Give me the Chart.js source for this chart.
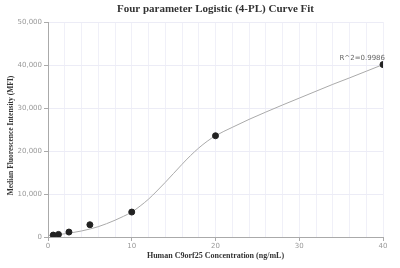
<!DOCTYPE html>
<html>
<head>
<meta charset="utf-8">
<script src="https://cdn.jsdelivr.net/npm/chart.js@4"></script>
<style>
html,body{margin:0;padding:0;background:#fff;}
#wrap{width:400px;height:268px;position:relative;}
</style>
</head>
<body>
<div id="wrap"><canvas id="c" width="400" height="268"></canvas></div>
<script>
const pointX = [0.625, 1.25, 2.5, 5, 10, 20, 40];
const pointY = [450, 600, 1150, 2850, 5800, 23550, 40100];
const curveX = [0, 1, 2, 3, 4, 5, 6, 7, 8, 9, 10, 11, 12, 13, 14, 15, 16, 17, 18, 19, 20, 22, 24, 26, 28, 30, 32, 34, 36, 38, 40];
const curveY = [350, 500, 750, 1050, 1400, 1850, 2400, 3100, 3900, 4800, 5800, 7200, 8800, 10700, 12700, 14800, 16900, 18900, 20700, 22250, 23550, 25500, 27350, 29050, 30700, 32300, 33900, 35500, 37000, 38550, 40100];
const xLabelTicks = [0, 10, 20, 30, 40];
const yTicks = [0, 10000, 20000, 30000, 40000, 50000];
const titleText = 'Four parameter Logistic (4-PL) Curve Fit';
const xTitle = 'Human C9orf25 Concentration (ng/mL)';
const yTitle = 'Median Fluorescence Intensity (MFI)';
const r2Text = 'R^2=0.9986';

const overlay = {
  id: 'overlay',
  afterDraw(chart) {
    const ctx = chart.ctx, a = chart.chartArea;
    const xs = chart.scales.x, ys = chart.scales.y;
    ctx.save();
    ctx.fillStyle = '#333';
    ctx.font = 'bold 11px "Liberation Serif"';
    ctx.textAlign = 'center';
    ctx.textBaseline = 'middle';
    ctx.fillText(titleText, (a.left + a.right) / 2, 9);
    ctx.font = 'bold 8px "Liberation Serif"';
    ctx.fillText(xTitle, (a.left + a.right) / 2, 256);
    ctx.font = 'bold 7.5px "Liberation Serif"';
    ctx.translate(11, (a.top + a.bottom) / 2 + 6);
    ctx.rotate(-Math.PI / 2);
    ctx.fillText(yTitle, 0, 0);
    ctx.restore();
    ctx.save();
    ctx.fillStyle = '#666';
    ctx.font = '7px "DejaVu Sans"';
    ctx.textAlign = 'right';
    ctx.textBaseline = 'bottom';
    const li = pointX.length - 1;
    ctx.fillText(r2Text, xs.getPixelForValue(pointX[li]) + 2, ys.getPixelForValue(pointY[li]) - 3);
    ctx.restore();
  }
};

new Chart(document.getElementById('c'), {
  type: 'scatter',
  data: {
    datasets: [
      {
        data: curveX.map((x, i) => ({x: x, y: curveY[i]})),
        showLine: true,
        borderColor: '#aaaaaa',
        borderWidth: 1,
        pointRadius: 0,
        cubicInterpolationMode: 'monotone',
        order: 2
      },
      {
        data: pointX.map((x, i) => ({x: x, y: pointY[i]})),
        showLine: false,
        pointRadius: 3,
        pointBackgroundColor: '#222',
        pointBorderColor: '#222',
        order: 1
      }
    ]
  },
  options: {
    responsive: false,
    animation: false,
    devicePixelRatio: 1,
    layout: {padding: {left: 0, right: 17, top: 22, bottom: 0}},
    plugins: {legend: {display: false}, title: {display: false}, tooltip: {enabled: false}},
    scales: {
      x: {
        type: 'linear', min: 0, max: 40,
        afterBuildTicks(s) { s.ticks = []; for (let v = 0; v <= 40; v += 2) s.ticks.push({value: v}); },
        afterFit(s) { s.height = 31; },
        border: {color: '#aaaaaa', width: 1},
        grid: {
          color: '#f0f0f8', lineWidth: 1, tickLength: 4,
          tickColor: ctx => xLabelTicks.includes(ctx.tick && ctx.tick.value) ? '#aaaaaa' : 'rgba(0,0,0,0)'
        },
        ticks: {
          color: '#999', font: {size: 7, family: 'DejaVu Sans'}, padding: 1, maxRotation: 0, autoSkip: false,
          callback: v => xLabelTicks.includes(v) ? String(v) : ''
        }
      },
      y: {
        type: 'linear', min: 0, max: 50000,
        afterBuildTicks(s) { s.ticks = yTicks.map(v => ({value: v})); },
        afterFit(s) { s.width = 48; },
        border: {color: '#aaaaaa', width: 1},
        grid: {color: '#ececf6', lineWidth: 1, tickLength: 4, tickColor: '#aaaaaa'},
        ticks: {
          color: '#999', font: {size: 7, family: 'DejaVu Sans'}, padding: 2,
          callback: v => v.toLocaleString('en-US')
        }
      }
    }
  },
  plugins: [overlay]
});
</script>
</body>
</html>
